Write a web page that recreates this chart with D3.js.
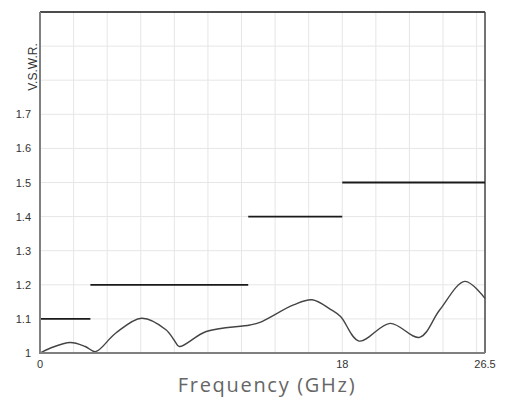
<!DOCTYPE html>
<html><head><meta charset="utf-8">
<script src="https://cdn.jsdelivr.net/npm/d3@7"></script>
<style>body{margin:0;background:#fff}svg{display:block}</style>
</head><body>
<script>
const freq = [0, 0.6, 1.8, 2.7, 3.3, 4.5, 6.05, 7.5, 8.05, 8.3, 9.9, 12.5, 13.1, 15.1, 16.2, 17.3, 17.9, 19.0, 20.85, 22.6, 23.8, 25.3, 26.5];
const vswr = [1.0, 1.014, 1.031, 1.019, 1.004, 1.058, 1.102, 1.068, 1.033, 1.019, 1.063, 1.082, 1.09, 1.141, 1.156, 1.128, 1.107, 1.035, 1.087, 1.046, 1.126, 1.21, 1.16];
const specStart = [0, 3, 12.4, 18];
const specEnd = [3, 12.4, 18, 26.5];
const specValue = [1.1, 1.2, 1.4, 1.5];
const xTickLabels = [0, 18, 26.5];
const yTickLabels = [1, 1.1, 1.2, 1.3, 1.4, 1.5, 1.6, 1.7];
const xGrid = d3.range(2, 26.1, 2);
const yGrid = d3.range(1.1, 1.95, 0.1);

const W = 508, H = 404;
const m = {l: 40, r: 23, t: 12, b: 51};
const svg = d3.select("body").append("svg").attr("width", W).attr("height", H);
const x = d3.scaleLinear().domain([0, 26.5]).range([m.l, W - m.r]);
const y = d3.scaleLinear().domain([1, 2]).range([H - m.b, m.t]);

const g = svg.append("g");
g.selectAll(".vg").data(xGrid).join("line")
  .attr("x1", d => x(d)).attr("x2", d => x(d)).attr("y1", y(1)).attr("y2", y(2))
  .attr("stroke", "#e6e6e6").attr("stroke-width", 1);
g.selectAll(".hg").data(yGrid).join("line")
  .attr("x1", x(0)).attr("x2", x(26.5)).attr("y1", d => y(d)).attr("y2", d => y(d))
  .attr("stroke", "#e6e6e6").attr("stroke-width", 1);

// borders
svg.append("line").attr("x1", x(0)).attr("x2", x(26.5)).attr("y1", y(2)).attr("y2", y(2)).attr("stroke", "#111").attr("stroke-width", 1.5);
svg.append("line").attr("x1", x(26.5)).attr("x2", x(26.5)).attr("y1", y(2)).attr("y2", y(1)).attr("stroke", "#444").attr("stroke-width", 1.5);

// spec lines
svg.selectAll(".spec").data(specValue).join("line")
  .attr("x1", (d, i) => x(specStart[i])).attr("x2", (d, i) => x(specEnd[i]))
  .attr("y1", d => y(d)).attr("y2", d => y(d))
  .attr("stroke", "#1a1a1a").attr("stroke-width", 1.8);

// curve
const line = d3.line().x((d, i) => x(freq[i])).y(d => y(d)).curve(d3.curveCatmullRom.alpha(0.5));
svg.append("path").datum(vswr).attr("d", line).attr("fill", "none")
  .attr("stroke", "#444").attr("stroke-width", 1.4);

// axes lines
svg.append("line").attr("x1", x(0)).attr("x2", x(0)).attr("y1", y(2)).attr("y2", y(1) + 1).attr("stroke", "#808080").attr("stroke-width", 2);
svg.append("line").attr("x1", x(0) - 1).attr("x2", x(26.5)).attr("y1", y(1)).attr("y2", y(1)).attr("stroke", "#808080").attr("stroke-width", 2);

// y tick labels
svg.selectAll(".yt").data(yTickLabels).join("text")
  .attr("x", 31).attr("y", d => y(d) + 4)
  .attr("text-anchor", "end").attr("font-family", "Liberation Sans, Arial, sans-serif")
  .attr("font-size", 11).attr("fill", "#333").text(d => d);

// x tick labels
svg.selectAll(".xt").data(xTickLabels).join("text")
  .attr("x", d => x(d)).attr("y", 368)
  .attr("text-anchor", "middle").attr("font-family", "Liberation Sans, Arial, sans-serif")
  .attr("font-size", 11).attr("fill", "#333").text(d => d);

// y label
svg.append("text").attr("transform", "translate(37,67) rotate(-90)")
  .attr("text-anchor", "middle").attr("font-family", "Liberation Sans, Arial, sans-serif")
  .attr("font-size", 12).attr("fill", "#333").text("V.S.W.R.");

// x label
svg.append("text").attr("x", 267).attr("y", 392)
  .attr("text-anchor", "middle").attr("font-family", "Open Sans, sans-serif")
  .attr("font-size", 20).attr("letter-spacing", 1.7).attr("fill", "#666").text("Frequency (GHz)");
</script>
</body></html>
